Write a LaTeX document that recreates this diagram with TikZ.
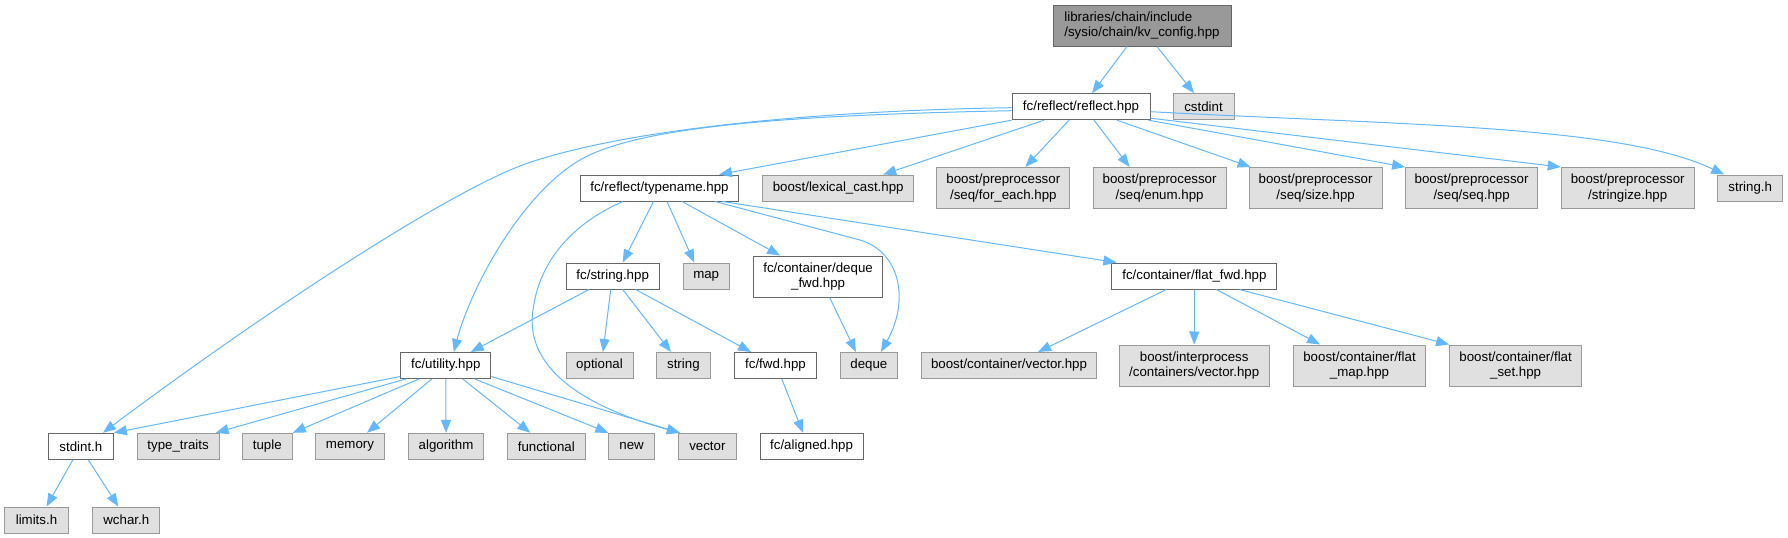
\documentclass[tikz,border=0pt]{standalone}
\usepackage{fontspec}
\setmainfont{Liberation Sans}
\usetikzlibrary{arrows.meta}
\definecolor{edgec}{HTML}{63B8FF}
\definecolor{docb}{HTML}{666666}
\definecolor{extf}{HTML}{E0E0E0}
\definecolor{extb}{HTML}{999999}
\definecolor{rootf}{HTML}{999999}
\begin{document}
\begin{tikzpicture}[x=1pt,y=-1pt,
  box/.style={rectangle, inner sep=0pt, minimum height=26pt, font=\fontsize{13.3}{15.5}\selectfont, align=center, line width=1pt},
  doc/.style={box, draw=docb, fill=white},
  ext/.style={box, draw=extb, fill=extf},
  rootn/.style={box, draw=docb, fill=rootf, align=left},
  two/.style={minimum height=41pt},
  conn/.style={draw=edgec, line width=1pt, -{Triangle[length=13pt,width=10pt]}}]
\useasboundingbox (0,0) rectangle (1788,538);
% row 1
\node[rootn, two, minimum width=178pt] (root) at (1142,25.5) {libraries/chain/include\\/sysio/chain/kv\_config.hpp};
% row 2
\node[doc, minimum width=138pt] (reflect) at (1081,106.7) {fc/reflect/reflect.hpp};
\node[ext, minimum width=61pt] (cstdint) at (1203.5,106.7) {cstdint};
% row 3
\node[doc, minimum width=158pt] (typename) at (659.5,188) {fc/reflect/typename.hpp};
\node[ext, minimum width=151pt] (lexical) at (838.2,188) {boost/lexical\_cast.hpp};
\node[ext, two, minimum width=133pt] (foreach) at (1003.3,188) {boost/preprocessor\\/seq/for\_each.hpp};
\node[ext, two, minimum width=133pt] (enum) at (1159.6,188) {boost/preprocessor\\/seq/enum.hpp};
\node[ext, two, minimum width=133pt] (size) at (1315.6,188) {boost/preprocessor\\/seq/size.hpp};
\node[ext, two, minimum width=132pt] (seq) at (1471.6,188) {boost/preprocessor\\/seq/seq.hpp};
\node[ext, two, minimum width=133pt] (stringize) at (1627.7,188) {boost/preprocessor\\/stringize.hpp};
\node[ext, minimum width=65pt] (stringh) at (1750.2,188) {string.h};
% row 4
\node[doc, minimum width=93pt] (stringhpp) at (612.7,276) {fc/string.hpp};
\node[ext, minimum width=46pt] (map) at (706.2,276) {map};
\node[doc, two, minimum width=129pt] (dequefwd) at (818.1,276.5) {fc/container/deque\\\_fwd.hpp};
\node[doc, minimum width=165pt] (flatfwd) at (1194.4,276) {fc/container/flat\_fwd.hpp};
% row 5
\node[doc, minimum width=90pt] (utility) at (445.8,365.5) {fc/utility.hpp};
\node[ext, minimum width=67pt] (optional) at (599.5,365.5) {optional};
\node[ext, minimum width=54pt] (string) at (683.4,365.5) {string};
\node[doc, minimum width=82pt] (fwd) at (775.5,365.5) {fc/fwd.hpp};
\node[ext, minimum width=57pt] (deque) at (868.9,365.5) {deque};
\node[ext, minimum width=175pt] (bvector) at (1009,365.5) {boost/container/vector.hpp};
\node[ext, two, minimum width=150pt] (interproc) at (1194.2,365.5) {boost/interprocess\\/containers/vector.hpp};
\node[ext, two, minimum width=132pt] (flatmap) at (1359.5,365.5) {boost/container/flat\\\_map.hpp};
\node[ext, two, minimum width=132pt] (flatset) at (1515.6,365.5) {boost/container/flat\\\_set.hpp};
% row 6
\node[doc, minimum width=65pt] (stdint) at (80.9,446.3) {stdint.h};
\node[ext, minimum width=82pt] (typetraits) at (178.1,446.3) {type\_traits};
\node[ext, minimum width=50pt] (tuple) at (267.3,446.3) {tuple};
\node[ext, minimum width=68.5pt] (memory) at (350,446.3) {memory};
\node[ext, minimum width=75pt] (algorithm) at (446,446.3) {algorithm};
\node[ext, minimum width=78pt] (functional) at (546.3,446.3) {functional};
\node[ext, minimum width=45.5pt] (new) at (631.6,446.3) {new};
\node[ext, minimum width=58pt] (vector) at (707.4,446.3) {vector};
\node[doc, minimum width=103pt] (aligned) at (811.6,446.3) {fc/aligned.hpp};
% row 7
\node[ext, minimum width=64pt] (limits) at (36.5,520) {limits.h};
\node[ext, minimum width=67pt] (wchar) at (126.3,520) {wchar.h};
% edges from root
\draw[conn] ([xshift=-15]root.south) -- ([xshift=11]reflect.north);
\draw[conn] ([xshift=15]root.south) -- ([xshift=-9.5]cstdint.north);
% edges from reflect
\draw[conn] ([yshift=-1]reflect.west) .. controls (850,110) and (640,125) .. (528,163) .. controls (450,190) and (263,313) .. ([xshift=22]stdint.north);
\draw[conn] ([yshift=-4]reflect.west) .. controls (800,115) and (640,125) .. (580,160) .. controls (520,195) and (470,290) .. ([xshift=8]utility.north);
\draw[conn] (reflect.south west) -- ([xshift=59.5]typename.north);
\draw[conn] ([xshift=-37]reflect.south) -- ([xshift=45]lexical.north);
\draw[conn] ([xshift=-12]reflect.south) -- ([xshift=22]foreach.north);
\draw[conn] ([xshift=13]reflect.south) -- ([xshift=-30]enum.north);
\draw[conn] ([xshift=36]reflect.south) -- ([xshift=2]size.north west);
\draw[conn] ([xshift=-2]reflect.south east) -- (seq.north west);
\draw[conn] ([yshift=2]reflect.south east) -- (stringize.north west);
\draw[conn] ([yshift=-5]reflect.east) .. controls (1400,125) and (1620,125) .. ([xshift=-26]stringh.north);
% edges from typename
\draw[conn] ([xshift=-6]typename.south) -- ([xshift=10]stringhpp.north);
\draw[conn] ([xshift=7.5]typename.south) -- ([xshift=-12]map.north);
\draw[conn] ([xshift=22.5]typename.south) -- ([xshift=-38]dequefwd.north);
\draw[conn] ([xshift=55.5]typename.south) -- (860,240) .. controls (900,252) and (910,300) .. ([xshift=12]deque.north);
\draw[conn] ([xshift=63]typename.south) -- ([xshift=-78]flatfwd.north);
\draw[conn] ([xshift=-36.5]typename.south) .. controls (580,220) and (540,255) .. (533,310) .. controls (526,355) and (560,400) .. ([xshift=2]vector.north west);
% edges from string.hpp
\draw[conn] ([xshift=-23.7]stringhpp.south) -- ([xshift=25]utility.north);
\draw[conn] ([xshift=-2]stringhpp.south) -- ([xshift=3.5]optional.north);
\draw[conn] ([xshift=10]stringhpp.south) -- ([xshift=-12.4]string.north);
\draw[conn] ([xshift=23]stringhpp.south) -- ([xshift=-24.5]fwd.north);
% deque_fwd
\draw[conn] ([xshift=11.5]dequefwd.south) -- ([xshift=-13]deque.north);
% flat_fwd
\draw[conn] ([xshift=-28]flatfwd.south) -- ([xshift=29]bvector.north);
\draw[conn] (flatfwd.south) -- (interproc.north);
\draw[conn] ([xshift=22]flatfwd.south) -- ([xshift=-39.5]flatmap.north);
\draw[conn] ([xshift=45]flatfwd.south) -- (flatset.north west);
% utility
\draw[conn] ([yshift=2.5]utility.south west) -- (stdint.north east);
\draw[conn] ([xshift=-40]utility.south) -- ([xshift=-4]typetraits.north east);
\draw[conn] ([xshift=-27]utility.south) -- (tuple.north east);
\draw[conn] ([xshift=-14]utility.south) -- ([xshift=17]memory.north);
\draw[conn] (utility.south) -- (algorithm.north);
\draw[conn] ([xshift=17]utility.south) -- ([xshift=-16]functional.north);
\draw[conn] ([xshift=29]utility.south) -- (new.north west);
\draw[conn] ([yshift=2.5]utility.south east) -- ([xshift=2]vector.north west);
% fwd
\draw[conn] ([xshift=6.3]fwd.south) -- ([xshift=-8.6]aligned.north);
% stdint
\draw[conn] ([xshift=-8]stdint.south) -- ([xshift=10]limits.north);
\draw[conn] ([xshift=7.4]stdint.south) -- ([xshift=-8]wchar.north);
\end{tikzpicture}
\end{document}
